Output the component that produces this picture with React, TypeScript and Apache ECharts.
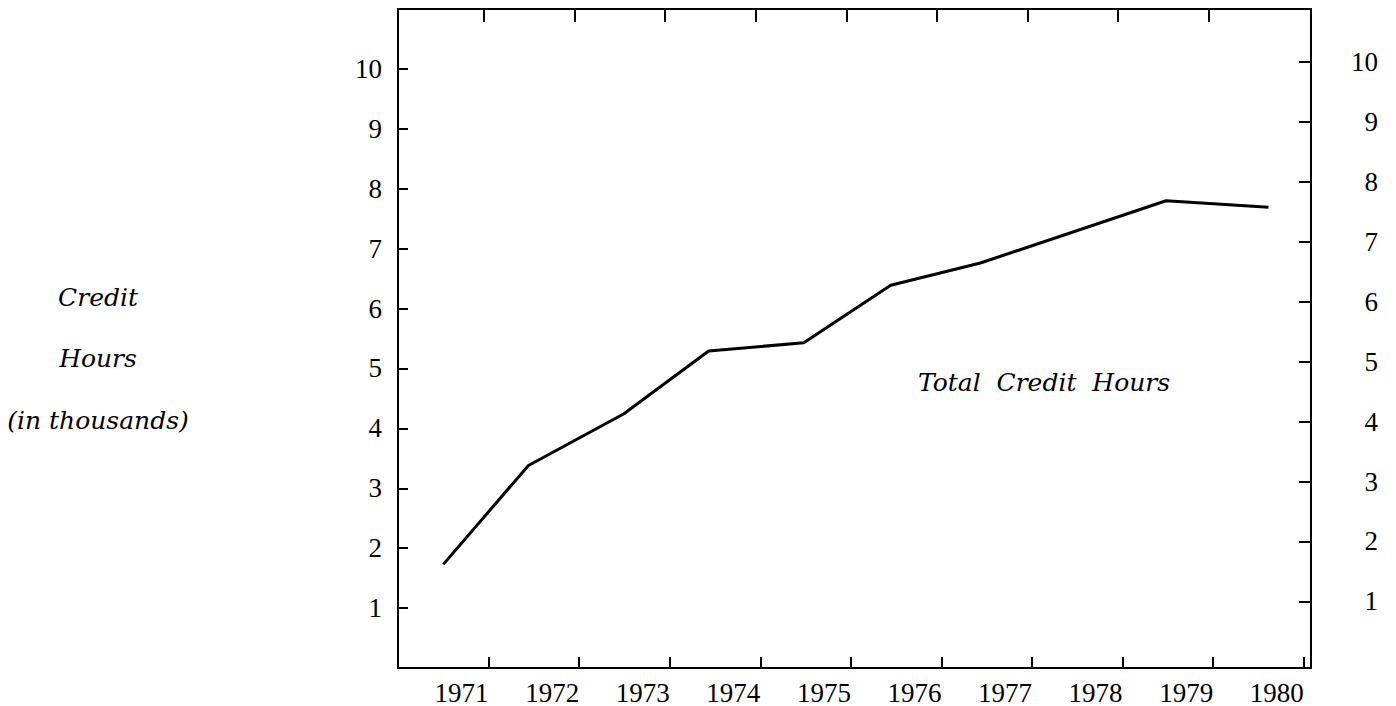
import React, { useEffect, useRef } from "react";
import * as echarts from "echarts";

// Data
const pointYears = [1970.5, 1971.44, 1972.49, 1973.43, 1974.48, 1975.44, 1976.43, 1978.48, 1979.61];
const creditHours = [1.73, 3.38, 4.24, 5.29, 5.43, 6.39, 6.76, 7.8, 7.69];
const yearTicks = [1971, 1972, 1973, 1974, 1975, 1976, 1977, 1978, 1979, 1980];
const topYearTicks = [1971, 1972, 1973, 1974, 1975, 1976, 1977, 1978, 1979];
const valueTicks = [1, 2, 3, 4, 5, 6, 7, 8, 9, 10];
const seriesName = "Total  Credit  Hours";
const yTitleLines = ["Credit", "Hours", "(in thousands)"];

export default function App() {
  const ref = useRef<HTMLDivElement>(null);
  useEffect(() => {
    if (!ref.current) return;
    const chart = echarts.init(ref.current, null, { renderer: "svg" });
    const tickFont = { fontFamily: "Liberation Serif", fontSize: 27, color: "#000" };
    const italicFont = { fontFamily: "DejaVu Serif", fontStyle: "italic", fontSize: 25, fill: "#000" };
    const axisLine = { show: true, onZero: false, lineStyle: { color: "#000", width: 2 } };
    chart.setOption({
      animation: false,
      backgroundColor: "#fff",
      grid: { left: 398, right: 85, top: 9, bottom: 36 },
      xAxis: [
        {
          type: "value",
          position: "bottom",
          min: 1970,
          max: 1980.08,
          axisLine,
          splitLine: { show: false },
          axisTick: { inside: true, length: 11, lineStyle: { color: "#000", width: 2 }, customValues: yearTicks },
          axisLabel: {
            ...tickFont,
            align: "right",
            margin: 11,
            customValues: yearTicks,
            formatter: (v: number) => String(v),
          },
        },
        {
          type: "value",
          position: "top",
          min: 1970.05,
          max: 1980.13,
          axisLine,
          splitLine: { show: false },
          axisTick: { inside: true, length: 13, lineStyle: { color: "#000", width: 2 }, customValues: topYearTicks },
          axisLabel: { show: false },
        },
      ],
      yAxis: [
        {
          type: "value",
          position: "left",
          min: 0,
          max: 11,
          axisLine,
          splitLine: { show: false },
          axisTick: { inside: true, length: 10, lineStyle: { color: "#000", width: 2 }, customValues: valueTicks },
          axisLabel: { ...tickFont, margin: 16, padding: [0, 0, 6, 0], customValues: valueTicks },
        },
        {
          type: "value",
          position: "right",
          min: -0.11,
          max: 10.88,
          axisLine,
          splitLine: { show: false },
          axisTick: { inside: true, length: 12, lineStyle: { color: "#000", width: 2 }, customValues: valueTicks },
          axisLabel: { ...tickFont, align: "right", margin: 67, padding: [0, 0, 10, 0], customValues: valueTicks },
        },
      ],
      series: [
        {
          name: seriesName,
          type: "line",
          xAxisIndex: 0,
          yAxisIndex: 0,
          symbol: "none",
          lineStyle: { color: "#000", width: 3 },
          data: pointYears.map((y, i) => [y, creditHours[i]]),
        },
      ],
      graphic: [
        ...yTitleLines.map((t, i) => ({
          type: "text",
          x: 98,
          y: [297, 358, 420][i],
          style: { text: t, ...italicFont, textAlign: "center", textVerticalAlign: "middle" },
        })),
        {
          type: "text",
          x: 1044,
          y: 382,
          style: { text: seriesName, ...italicFont, textAlign: "center", textVerticalAlign: "middle" },
        },
      ],
    });
    return () => chart.dispose();
  }, []);
  return (
    <div
      ref={ref}
      style={{ position: "fixed", left: 0, top: 0, width: 1396, height: 706, background: "#fff" }}
    />
  );
}
